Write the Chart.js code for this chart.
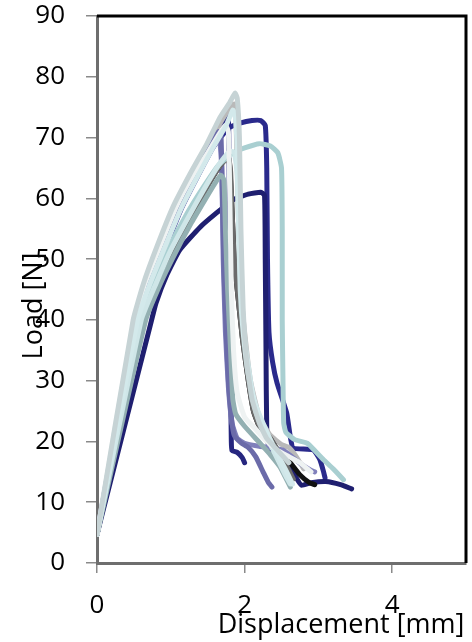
<!DOCTYPE html>
<html>
<head>
<meta charset="utf-8">
<script src="https://cdn.jsdelivr.net/npm/chart.js@4/dist/chart.umd.min.js"></script>
<style>
  html, body { margin: 0; padding: 0; background: #fff; }
  canvas { display: block; }
</style>
</head>
<body>
<canvas id="load-chart" width="472" height="642"></canvas>
<script>
// tick labels
const xTicks = [0, 2, 4];
const yTicks = [0, 10, 20, 30, 40, 50, 60, 70, 80, 90];

// load [N] vs displacement [mm], one array of [x, y] per specimen
const navy3 = [[0,4.7],[0.55,40],[0.72,46],[0.92,52],[1.14,58.6],[1.36,64],[1.55,68.5],[1.7,72],[1.76,74],[1.78,73.5],[1.79,65],[1.8,45],[1.81,30],[1.82,20],[1.83,18.5],[1.9,18.2],[1.97,17.3],[2.0,16.5]];
const navyHigh = [[0,4.7],[0.56,40],[0.73,46],[0.93,52],[1.15,58.5],[1.38,64],[1.58,68.5],[1.78,71.5],[1.95,72.4],[2.1,72.8],[2.22,72.8],[2.28,72],[2.3,65],[2.31,50],[2.33,38],[2.38,33],[2.44,29.6],[2.57,24.7],[2.62,20.7],[2.66,18.9],[2.93,18.6],[3.02,17],[3.07,15],[3.09,14]];
const navyLow = [[0,4.7],[0.72,39],[0.8,42.8],[0.95,47.5],[1.12,51.5],[1.4,55.3],[1.62,57.6],[1.85,59.8],[2.05,60.7],[2.22,61],[2.27,60.5],[2.28,50],[2.29,35],[2.3,22],[2.33,19],[2.45,18],[2.58,16.5],[2.7,14],[2.77,12.8],[2.9,13.2],[3.1,13.4],[3.3,12.9],[3.45,12.2]];
const periwinkle = [[0,4.7],[0.53,40],[0.7,46],[0.9,52],[1.12,58.3],[1.32,63.2],[1.48,66.8],[1.6,69],[1.66,69.6],[1.69,65],[1.71,50],[1.74,38],[1.78,29],[1.83,23],[1.9,20.5],[2.0,19.7],[2.2,19.2],[2.52,18.6],[2.75,16.4],[2.89,15.3],[2.95,15]];
const purple = [[0,4.7],[0.52,40],[0.68,46],[0.88,52],[1.1,58.5],[1.3,63.5],[1.45,67],[1.58,69.8],[1.65,71],[1.68,70.3],[1.7,60],[1.72,48],[1.75,38],[1.78,30],[1.82,24],[1.86,21],[1.95,19.8],[2.05,19],[2.15,17.5],[2.25,15],[2.32,13.3],[2.37,12.5]];
const black = [[0,4.7],[0.62,40],[0.82,46],[1.03,51.5],[1.25,56.5],[1.45,61],[1.62,64.5],[1.73,66.4],[1.79,66.5],[1.81,63],[1.83,58],[1.86,50],[1.9,45],[1.97,37],[2.05,30],[2.12,25],[2.2,22.5],[2.35,20.5],[2.45,18.5],[2.6,16.8],[2.75,14.5],[2.88,13.2],[2.95,12.9]];
const darkGrey = [[0,4.7],[0.62,40],[0.82,46],[1.03,51.5],[1.25,56.5],[1.45,61],[1.62,64.5],[1.73,66.2],[1.78,66.3],[1.81,64.5],[1.83,58],[1.86,50],[1.9,45],[1.97,37],[2.05,30],[2.12,25],[2.2,22.5],[2.35,20.5],[2.45,18.5],[2.55,16.5],[2.66,13.8]];
const lightTeal = [[0,4.7],[0.58,40],[0.76,46],[0.98,52],[1.22,57.5],[1.45,62],[1.65,65.5],[1.85,67.5],[2.0,68.3],[2.2,69],[2.35,68.6],[2.45,67.5],[2.5,65],[2.51,55],[2.51,40],[2.52,30],[2.53,23],[2.56,21.5],[2.68,20.3],[2.85,19.7],[2.95,18.5],[3.07,17],[3.2,15.5],[3.34,13.7]];
const greyTeal = [[0,4.7],[0.66,40],[0.86,46],[1.06,51],[1.28,56],[1.45,59.5],[1.6,62.5],[1.68,63.8],[1.72,63],[1.74,55],[1.77,45],[1.81,35],[1.84,27],[1.88,24.5],[2.0,22.5],[2.21,19.7],[2.35,17.8],[2.48,15.8],[2.62,12.5]];
const cyanLow = [[0,4.7],[0.6,40],[0.8,46],[1.0,51.5],[1.22,56.5],[1.45,61.5],[1.65,65.5],[1.8,67.8],[1.86,67.5],[1.9,64],[1.92,55],[1.95,45],[2.0,37],[2.08,30],[2.15,25],[2.25,22],[2.35,19.5],[2.45,17],[2.55,14.5],[2.62,13]];
const whiteish = [[0,4.7],[0.5,40],[0.65,46],[0.85,52],[1.07,58.5],[1.3,63.8],[1.5,67.5],[1.65,70.5],[1.74,72],[1.78,71],[1.8,60],[1.82,45],[1.85,35],[1.9,28],[2.0,24],[2.15,22],[2.3,20],[2.45,18.5],[2.6,17.5],[2.75,16.5],[2.85,15.5],[2.9,15]];
const cyanHigh = [[0,4.7],[0.55,40],[0.72,46],[0.92,52],[1.15,58.6],[1.38,64],[1.58,68.5],[1.75,72],[1.84,74.5],[1.87,74],[1.9,68],[1.92,55],[1.94,45],[1.98,38],[2.05,31],[2.15,26],[2.25,23],[2.4,19],[2.55,15.5],[2.65,13]];
const silver = [[0,4.7],[0.52,40],[0.67,46],[0.86,52],[1.08,58.6],[1.3,64],[1.52,69],[1.7,73],[1.82,75.3],[1.86,75.5],[1.88,74],[1.9,65],[1.92,55],[1.95,45],[2.0,38],[2.08,30],[2.2,24],[2.35,21],[2.5,19.5],[2.6,19],[2.7,17.5],[2.8,15.5]];
const topCurve = [[0,4.7],[0.49,40],[0.63,46],[0.81,52],[1.03,58.6],[1.26,64],[1.49,69],[1.67,73.4],[1.8,75.8],[1.87,77.3],[1.9,76.5],[1.93,70],[1.95,55],[1.98,42],[2.03,33],[2.1,27],[2.2,23],[2.3,20.5],[2.45,18.5],[2.6,16.5]];

// bottom layer first
const specimens = [
  { data: navy3, color: '#26267f' },
  { data: navyHigh, color: '#2a2a8c' },
  { data: navyLow, color: '#1f1f70' },
  { data: silver, color: '#b9b9b9' },
  { data: periwinkle, color: '#8080bb' },
  { data: purple, color: '#6b6ba9' },
  { data: black, color: '#111111' },
  { data: darkGrey, color: '#6b6b6b' },
  { data: lightTeal, color: '#a9cfd1' },
  { data: greyTeal, color: '#93b0b2' },
  { data: cyanLow, color: '#cfe6e8' },
  { data: whiteish, color: '#eef2f2' },
  { data: cyanHigh, color: '#d3e9eb' },
  { data: topCurve, color: '#c6d3d5' }
];

const datasets = specimens.slice().reverse().map(s => ({
  data: s.data.map(p => ({ x: p[0], y: p[1] })),
  borderColor: s.color,
  borderWidth: 5,
  pointRadius: 0,
  showLine: true,
  fill: false,
  tension: 0.15,
  borderJoinStyle: 'round',
  borderCapStyle: 'round'
}));

const font = { family: "'Open Sans', 'Noto Sans', sans-serif", size: 26 };

const frameAndTitles = {
  id: 'frameAndTitles',
  afterDraw(chart) {
    const { ctx, chartArea: a } = chart;
    ctx.save();
    ctx.strokeStyle = '#000';
    ctx.lineWidth = 3;
    ctx.beginPath();
    ctx.moveTo(a.left, a.top);
    ctx.lineTo(a.right, a.top);
    ctx.lineTo(a.right, a.bottom);
    ctx.stroke();

    ctx.fillStyle = '#000';
    ctx.font = "27px 'Open Sans', 'Noto Sans', sans-serif";
    ctx.textAlign = 'center';
    ctx.textBaseline = 'alphabetic';
    ctx.fillText('Displacement [mm]', 341, 633);

    ctx.translate(42, 306);
    ctx.rotate(-Math.PI / 2);
    ctx.fillText('Load [N]', 0, 0);
    ctx.restore();
  }
};

const noPad = s => { s.paddingTop = 0; s.paddingBottom = 0; s.paddingLeft = 0; s.paddingRight = 0; };

new Chart(document.getElementById('load-chart'), {
  type: 'scatter',
  data: { datasets: datasets },
  options: {
    responsive: false,
    animation: false,
    layout: { padding: { top: 16, right: 6, left: 0, bottom: 0 } },
    plugins: {
      legend: { display: false },
      tooltip: { enabled: false }
    },
    scales: {
      x: {
        type: 'linear',
        min: 0,
        max: 5,
        afterBuildTicks: s => { s.ticks = xTicks.map(v => ({ value: v })); },
        afterFit: s => { s.height = 79; noPad(s); },
        grid: { drawOnChartArea: false, drawTicks: true, tickLength: 10, color: '#8a8a8a', lineWidth: 1.5 },
        border: { display: true, color: '#6e6e6e', width: 3 },
        ticks: { font: font, color: '#000', padding: 17, maxRotation: 0 }
      },
      y: {
        min: 0,
        max: 90,
        afterBuildTicks: s => { s.ticks = yTicks.map(v => ({ value: v })); },
        afterFit: s => { s.width = 97; noPad(s); },
        grid: { drawOnChartArea: false, drawTicks: true, tickLength: 11, color: '#8a8a8a', lineWidth: 1.5 },
        border: { display: true, color: '#6e6e6e', width: 3 },
        ticks: { font: font, color: '#000', padding: 21 }
      }
    }
  },
  plugins: [frameAndTitles]
});
</script>
</body>
</html>
